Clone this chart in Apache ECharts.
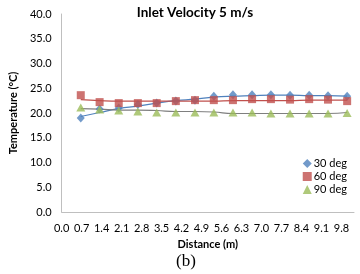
<!DOCTYPE html>
<html>
<head>
<meta charset="utf-8">
<script src="https://cdn.jsdelivr.net/npm/echarts@6/dist/echarts.min.js"></script>
<style>
html,body{margin:0;padding:0;background:#fff;}
#c{width:360px;height:274px;}
</style>
</head>
<body>
<div id="c"></div>
<script>
const distance = [0.67, 1.33, 2.0, 2.67, 3.33, 4.0, 4.67, 5.33, 6.0, 6.67, 7.33, 8.0, 8.67, 9.33, 10.0];
const temp30 = [19.0, 20.8, 21.0, 21.7, 22.0, 22.4, 22.6, 23.4, 23.7, 23.7, 23.7, 23.6, 23.6, 23.5, 23.4];
const temp60 = [23.6, 22.2, 22.0, 22.0, 22.0, 22.4, 22.6, 22.6, 22.6, 22.8, 22.8, 22.7, 22.8, 22.7, 22.4];
const temp90 = [21.1, 20.7, 20.5, 20.3, 20.1, 20.1, 20.1, 20.1, 20.1, 20.1, 19.9, 19.9, 19.9, 19.9, 20.0];
const trend30 = [19.3, 20.1, 20.9, 21.4, 22.0, 22.5, 22.8, 23.2, 23.4, 23.5, 23.6, 23.6, 23.5, 23.5, 23.4];
const trend60 = [22.7, 22.5, 22.4, 22.4, 22.4, 22.4, 22.4, 22.4, 22.5, 22.5, 22.5, 22.5, 22.6, 22.6, 22.6];
const trend90 = [20.9, 20.8, 20.6, 20.6, 20.5, 20.3, 20.3, 20.2, 19.9, 19.9, 19.9, 19.9, 19.9, 19.9, 20.1];
const seriesNames = ['30 deg', '60 deg', '90 deg'];
const yTicks = [0, 5, 10, 15, 20, 25, 30, 35, 40];

const pairs = (ys) => distance.map((x, i) => [x, ys[i]]);
const font = 'Lato, "Open Sans", sans-serif';
const blue = '#4F81BD', red = '#C0504D', green = '#9BBB59', gray = '#7F7F7F';

const chart = echarts.init(document.getElementById('c'), null, {renderer: 'canvas'});
chart.setOption({
  animation: false,
  backgroundColor: '#fff',
  title: {
    text: 'Inlet Velocity 5 m/s',
    left: 190, top: 1, textAlign: 'center',
    textStyle: {fontFamily: font, fontSize: 13.5, fontWeight: 'bold', color: '#000'}
  },
  grid: {left: 48, right: 6, top: 14, bottom: 62, containLabel: false},
  legend: {
    orient: 'vertical', right: 8, top: 153,
    itemWidth: 9, itemHeight: 9, itemGap: 2,
    data: seriesNames,
    textStyle: {fontFamily: font, fontSize: 11, color: '#000', padding: [0, 0, 0, -3]}
  },
  xAxis: {
    type: 'value', min: 0, max: 10.24, interval: 0.7,
    name: 'Distance (m)', nameLocation: 'middle', nameGap: 22,
    nameTextStyle: {fontFamily: font, fontSize: 11, fontWeight: 'bold', color: '#000'},
    axisLine: {show: true, lineStyle: {color: '#BFBFBF', width: 1}},
    axisTick: {show: false},
    splitLine: {show: false},
    axisLabel: {showMaxLabel: false, fontFamily: font, fontSize: 11, color: '#000', margin: 11,
      formatter: v => v.toFixed(1)}
  },
  yAxis: {
    type: 'value', min: yTicks[0], max: yTicks[yTicks.length - 1], interval: 5,
    name: 'Temperature (°C)', nameLocation: 'middle', nameGap: 37, nameRotate: 90,
    nameTextStyle: {fontFamily: font, fontSize: 11, fontWeight: 'bold', color: '#000'},
    axisLine: {show: true, lineStyle: {color: '#BFBFBF', width: 1}},
    axisTick: {show: false},
    splitLine: {show: false},
    axisLabel: {fontFamily: font, fontSize: 11, color: '#000', margin: 10,
      formatter: v => v.toFixed(1)}
  },
  graphic: [{
    type: 'text', left: 176, top: 253,
    style: {text: '(b)', font: '17px "Liberation Serif", serif', fill: '#000'}
  }],
  series: [
    {name: 'trend30', type: 'line', data: pairs(trend30), smooth: true, showSymbol: false, symbol: 'none',
      lineStyle: {color: blue, width: 1.2}, z: 1, silent: true},
    {name: 'trend60', type: 'line', data: pairs(trend60), smooth: true, showSymbol: false, symbol: 'none',
      lineStyle: {color: red, width: 1.2}, z: 1, silent: true},
    {name: 'trend90', type: 'line', data: pairs(trend90), smooth: true, showSymbol: false, symbol: 'none',
      lineStyle: {color: gray, width: 1.2}, z: 1, silent: true},
    {name: seriesNames[0], type: 'scatter', data: pairs(temp30), symbol: 'diamond', symbolSize: [8, 9],
      itemStyle: {color: blue}, z: 2},
    {name: seriesNames[1], type: 'scatter', data: pairs(temp60), symbol: 'rect', symbolSize: 8,
      itemStyle: {color: red}, z: 3},
    {name: seriesNames[2], type: 'scatter', data: pairs(temp90), symbol: 'triangle', symbolSize: [9, 8],
      itemStyle: {color: green}, z: 4}
  ]
});
</script>
</body>
</html>
